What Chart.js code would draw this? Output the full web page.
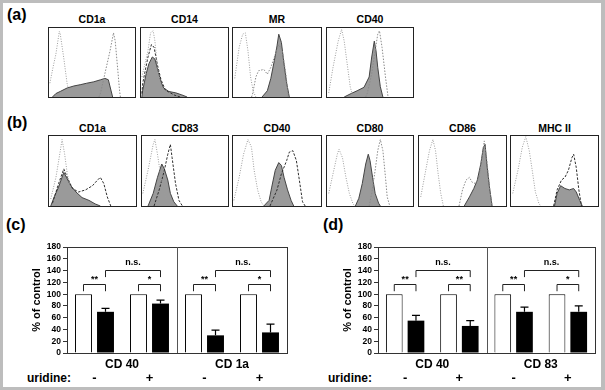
<!DOCTYPE html>
<html lang="en">
<head>
<meta charset="UTF-8">
<script src="https://cdn.jsdelivr.net/npm/chart.js"></script>
<title>Flow cytometry and uridine</title>
<style>
  body { margin: 0; background: #fff; }
  #frame { position: relative; width: 605px; height: 390px; background: #bdbdbd; overflow: hidden;
           font-family: Arial, "Liberation Sans", sans-serif; color: #000; }
  #inner { position: absolute; left: 3px; top: 3px; width: 598px; height: 384px; background: #fff; }
  .letter { position: absolute; font-weight: bold; font-size: 16px; line-height: 16px; }
  .htitle { position: absolute; font-weight: bold; font-size: 10.5px; line-height: 12px; text-align: center; }
  .hbox { position: absolute; box-sizing: border-box; border: 1px solid #222; background: #fff; }
  .hbox canvas { display: block; }
  .uri { position: absolute; font-weight: bold; font-size: 12px; line-height: 14px; }
  .bar { position: absolute; }
</style>
</head>
<body>
<div id="frame">
  <div id="inner"></div>
  <div class="letter" style="left:7px;top:7px">(a)</div>
  <div class="letter" style="left:7px;top:115px">(b)</div>
  <div class="letter" style="left:6px;top:217px">(c)</div>
  <div class="letter" style="left:323px;top:217px">(d)</div>
  <div class="uri" style="left:27px;top:371px">uridine:</div>
  <div class="uri" style="left:328px;top:371px">uridine:</div>
  <canvas id="barC" class="bar" width="290" height="145" style="left:0px;top:240px"></canvas>
  <canvas id="barD" class="bar" width="287" height="145" style="left:311px;top:240px"></canvas>
</div>

<script>
// ---------- panel (a): immature DC ----------
const aMarkers = ['CD1a', 'CD14', 'MR', 'CD40'];
const aCD1aIso  = [[1,20],[5,45],[8,62],[12,95],[13,92],[17,58],[21,20],[24,3],[27,0]];
const aCD1aFill = [[4,0],[8,5],[13,8],[21,13],[29,16],[37,18],[44,20],[52,22],[60,25],[65,27],[69,25],[72,10],[74,0]];
const aCD1aLine = [[58,0],[60,6],[65,34],[71,67],[75,93],[77,81],[80,39],[82,10],[83,0]];

const aCD14Iso  = [[1,29],[8,67],[11,93],[14,96],[16,81],[19,43],[23,17],[28,6],[34,0]];
const aCD14Fill = [[1,0],[2,10],[6,34],[9,48],[13,58],[16,55],[19,41],[23,22],[26,13],[32,8],[40,6],[47,3],[53,0]];
const aCD14Line = [[1,5],[2,20],[8,58],[12,76],[15,72],[19,46],[23,25],[28,10],[38,3],[45,0]];

const aMRIso  = [[2,27],[7,72],[11,91],[14,93],[17,67],[20,29],[23,8],[26,0]];
const aMRFill = [[33,0],[39,9],[43,27],[47,53],[50,74],[52,91],[55,79],[58,48],[61,20],[64,0]];
const aMRLine = [[21,0],[22,3],[26,29],[29,38],[35,40],[39,33],[43,43],[48,62],[52,76],[56,67],[60,34],[63,0]];

const aCD40Iso  = [[2,6],[7,43],[13,81],[17,98],[20,81],[24,43],[27,15],[30,0]];
const aCD40Fill = [[20,0],[28,5],[35,9],[43,14],[49,29],[52,58],[55,81],[57,67],[59,43],[62,15],[65,0]];
const aCD40Line = [[45,0],[47,6],[52,34],[56,67],[59,91],[61,96],[64,72],[68,29],[71,0]];

// ---------- panel (b): mature DC ----------
const bMarkers = ['CD1a', 'CD83', 'CD40', 'CD80', 'CD86', 'MHC II'];
const bCD1aIso  = [[2,10],[8,41],[13,79],[15,95],[18,74],[21,46],[25,23],[29,10],[32,0]];
const bCD1aFill = [[2,0],[6,13],[11,27],[17,48],[20,41],[25,29],[31,20],[38,12],[46,8],[53,3],[59,0]];
const bCD1aLine = [[4,4],[11,32],[17,53],[21,41],[27,25],[34,20],[42,23],[50,29],[55,36],[59,41],[63,32],[67,13],[71,0]];

const bCD83Iso  = [[1,18],[7,51],[13,88],[15,95],[18,74],[22,41],[26,18],[30,4],[33,0]];
const bCD83Fill = [[7,0],[13,18],[18,41],[23,60],[26,53],[30,37],[33,18],[37,6],[41,0]];
const bCD83Line = [[14,0],[20,23],[26,51],[30,74],[33,88],[35,69],[39,32],[43,8],[47,0]];

const bCD40Iso  = [[1,8],[7,41],[12,74],[17,95],[21,84],[24,51],[28,23],[32,6],[35,0]];
const bCD40Fill = [[35,0],[41,8],[44,27],[48,51],[52,62],[55,58],[58,41],[62,23],[66,8],[69,0]];
const bCD40Line = [[42,0],[50,23],[55,46],[61,65],[64,77],[68,79],[72,65],[76,32],[79,6],[82,0]];

const bCD80Iso  = [[2,18],[7,46],[12,74],[14,81],[18,69],[22,41],[26,18],[30,4],[32,0]];
const bCD80Fill = [[33,0],[37,11],[41,32],[45,60],[48,74],[50,65],[53,41],[56,18],[60,4],[62,0]];
const bCD80Line = [[49,0],[52,18],[56,51],[59,79],[62,95],[65,79],[68,41],[70,13],[73,0]];

const bCD86Iso  = [[2,13],[7,46],[12,79],[16,95],[19,79],[22,46],[25,18],[28,0]];
const bCD86Fill = [[52,0],[58,13],[63,25],[67,37],[71,60],[74,84],[76,88],[78,60],[81,27],[84,0]];
const bCD86Line = [[46,0],[50,23],[54,37],[58,41],[61,34],[65,32],[69,41],[73,74],[75,93],[78,65],[81,27],[84,0]];

const bMHCIso  = [[2,18],[8,51],[13,84],[17,99],[21,79],[25,46],[28,20],[32,4],[34,0]];
const bMHCFill = [[50,0],[53,18],[57,29],[62,25],[67,23],[72,25],[75,20],[79,8],[82,0]];
const bMHCLine = [[49,0],[53,23],[58,37],[62,41],[66,51],[70,69],[72,74],[75,55],[78,23],[81,0]];

// ---------- panels (c), (d): % of control ----------
const uridine = ['-', '+', '-', '+'];
const cGroups = ['CD 40', 'CD 1a'];
const cControl = [100, 100, 100, 100];
const cTreated = [70, 84, 30, 35];
const cTreatedErr = [6, 6, 9, 14];
const cPairSig = ['**', '*', '**', '*'];

const dGroups = ['CD 40', 'CD 83'];
const dControl = [100, 100, 100, 100];
const dTreated = [55, 46, 70, 70];
const dTreatedErr = [9, 9, 8, 10];
const dPairSig = ['**', '**', '**', '*'];

const groupSig = 'n.s.';
const yMax = 180;
const yStep = 20;

// ---------- layout ----------
const aBoxes = [[48,27,88,71],[140,27,89,71],[232,27,90,71],[326,27,88,71]];
const bBoxes = [[48,135,89,72],[141,135,88,72],[232,135,90,72],[326,135,88,72],[418,135,89,72],[510,135,89,72]];

const frame = document.getElementById('frame');

function toXY(arr) {
    return arr.map(p => ({x: p[0], y: p[1]}));
}

function histogram(box, title, titleY, iso, fill, line, lineDark) {
    const t = document.createElement('div');
    t.className = 'htitle';
    t.style.left = box[0] + 'px';
    t.style.width = box[2] + 'px';
    t.style.top = (titleY - 6) + 'px';
    t.textContent = title;
    frame.appendChild(t);

    const wrap = document.createElement('div');
    wrap.className = 'hbox';
    wrap.style.left = box[0] + 'px';
    wrap.style.top = box[1] + 'px';
    wrap.style.width = box[2] + 'px';
    wrap.style.height = box[3] + 'px';
    const cv = document.createElement('canvas');
    cv.width = box[2] - 2;
    cv.height = box[3] - 2;
    wrap.appendChild(cv);
    frame.appendChild(wrap);

    new Chart(cv.getContext('2d'), {
        type: 'line',
        data: {
            datasets: [
                { data: toXY(iso), borderColor: '#9c9c9c', borderWidth: 1, borderDash: [1, 1.5],
                  pointRadius: 0, fill: false, order: 1 },
                { data: toXY(line), borderColor: lineDark ? '#2e2e2e' : '#8a8a8a', borderWidth: 1,
                  borderDash: lineDark ? [2.5, 1.5] : [1.5, 1.5], pointRadius: 0, fill: false, order: 2 },
                { data: toXY(fill), borderColor: '#444', borderWidth: 1, backgroundColor: '#9a9a9a',
                  pointRadius: 0, fill: 'origin', order: 3 }
            ]
        },
        options: {
            responsive: false,
            animation: false,
            layout: { padding: 0 },
            plugins: { legend: { display: false }, tooltip: { enabled: false } },
            scales: {
                x: { type: 'linear', min: 0, max: 100, display: false },
                y: { type: 'linear', min: 0, max: 100, display: false }
            }
        }
    });
}

histogram(aBoxes[0], aMarkers[0], 19, aCD1aIso, aCD1aFill, aCD1aLine, false);
histogram(aBoxes[1], aMarkers[1], 19, aCD14Iso, aCD14Fill, aCD14Line, true);
histogram(aBoxes[2], aMarkers[2], 19, aMRIso, aMRFill, aMRLine, false);
histogram(aBoxes[3], aMarkers[3], 19, aCD40Iso, aCD40Fill, aCD40Line, false);

histogram(bBoxes[0], bMarkers[0], 128, bCD1aIso, bCD1aFill, bCD1aLine, true);
histogram(bBoxes[1], bMarkers[1], 128, bCD83Iso, bCD83Fill, bCD83Line, true);
histogram(bBoxes[2], bMarkers[2], 128, bCD40Iso, bCD40Fill, bCD40Line, true);
histogram(bBoxes[3], bMarkers[3], 128, bCD80Iso, bCD80Fill, bCD80Line, false);
histogram(bBoxes[4], bMarkers[4], 128, bCD86Iso, bCD86Fill, bCD86Line, false);
histogram(bBoxes[5], bMarkers[5], 128, bMHCIso, bMHCFill, bMHCLine, true);

// box, divider, error bars and significance brackets
const barDecor = {
    id: 'barDecor',
    afterDatasetsDraw(chart, args, opts) {
        const {ctx, chartArea: a, scales: {x, y}} = chart;
        const ctrl = chart.getDatasetMeta(0).data;
        const trt = chart.getDatasetMeta(1).data;
        ctx.save();
        // error bars (upper only)
        ctx.strokeStyle = '#000';
        ctx.lineWidth = 1.2;
        opts.err.forEach((e, i) => {
            const b = trt[i];
            const top = y.getPixelForValue(opts.values[i] + e);
            ctx.beginPath();
            ctx.moveTo(b.x, b.y);
            ctx.lineTo(b.x, top);
            ctx.moveTo(b.x - 4, top);
            ctx.lineTo(b.x + 4, top);
            ctx.stroke();
        });
        // plot frame and group divider
        ctx.strokeStyle = '#333';
        ctx.lineWidth = 1;
        ctx.strokeRect(Math.round(a.left) + 0.5, Math.round(a.top) + 0.5,
                       Math.round(a.right - a.left), Math.round(a.bottom - a.top));
        const mid = Math.round((x.getPixelForValue(1) + x.getPixelForValue(2)) / 2) + 0.5;
        ctx.strokeStyle = '#555';
        ctx.beginPath();
        ctx.moveTo(mid, a.top);
        ctx.lineTo(mid, a.bottom);
        ctx.stroke();
        // brackets
        ctx.strokeStyle = '#222';
        ctx.fillStyle = '#000';
        ctx.textAlign = 'center';
        ctx.textBaseline = 'middle';
        function bracket(x1, x2, level, leg, label, labelLevel) {
            const yl = Math.round(y.getPixelForValue(level)) + 0.5;
            const yg = y.getPixelForValue(leg);
            ctx.beginPath();
            ctx.moveTo(x1, yg);
            ctx.lineTo(x1, yl);
            ctx.lineTo(x2, yl);
            ctx.lineTo(x2, yg);
            ctx.stroke();
            ctx.fillText(label, (x1 + x2) / 2, y.getPixelForValue(labelLevel));
        }
        ctx.font = 'bold 9px Arial, "Liberation Sans", sans-serif';
        opts.pairSig.forEach((s, i) => {
            bracket(ctrl[i].x, trt[i].x, 117, 105, s, 125);
        });
        for (let g = 0; g < 2; g++) {
            bracket(trt[2 * g].x, trt[2 * g + 1].x, 141, 129, groupSig, 153);
        }
        ctx.restore();
    }
};

function barChart(id, groups, control, treated, err, pairSig) {
    const fontB = (s) => ({ family: 'Arial, "Liberation Sans", sans-serif', size: s, weight: 'bold' });
    return new Chart(document.getElementById(id).getContext('2d'), {
        type: 'bar',
        data: {
            labels: uridine,
            datasets: [
                { data: control, backgroundColor: '#fff', borderColor: '#000', borderWidth: 1,
                  categoryPercentage: 0.8, barPercentage: 0.77 },
                { data: treated, backgroundColor: '#000', borderColor: '#000', borderWidth: 0,
                  categoryPercentage: 0.8, barPercentage: 0.77 }
            ]
        },
        options: {
            responsive: false,
            animation: false,
            layout: { padding: { top: 7, right: 3, bottom: 0, left: 0 } },
            plugins: {
                legend: { display: false },
                tooltip: { enabled: false },
                barDecor: { values: treated, err: err, pairSig: pairSig }
            },
            scales: {
                x: {
                    type: 'category', position: 'bottom', weight: 2,
                    grid: { display: false, drawTicks: false }, border: { display: false },
                    ticks: { color: '#000', font: fontB(13), padding: 2, autoSkip: false, maxRotation: 0 },
                    afterFit: s => { s.height = 16; }
                },
                x2: {
                    type: 'category', position: 'bottom', weight: 1, labels: groups, offset: true,
                    grid: { display: false, drawTicks: false }, border: { display: false },
                    ticks: { color: '#000', font: fontB(12), padding: 4, autoSkip: false, maxRotation: 0 },
                    afterFit: s => { s.height = 16; }
                },
                y: {
                    min: 0, max: yMax,
                    grid: { drawOnChartArea: false, drawTicks: true, tickLength: 4, color: '#333' },
                    border: { display: false },
                    ticks: { stepSize: yStep, autoSkip: false, color: '#000', font: fontB(8.5), padding: 2 },
                    title: { display: true, text: '% of control', color: '#000', font: fontB(11),
                             padding: { top: 30, bottom: 0 } },
                    afterFit: s => { s.width = 67; }
                }
            }
        },
        plugins: [barDecor]
    });
}

barChart('barC', cGroups, cControl, cTreated, cTreatedErr, cPairSig);
barChart('barD', dGroups, dControl, dTreated, dTreatedErr, dPairSig);
</script>
</body>
</html>
